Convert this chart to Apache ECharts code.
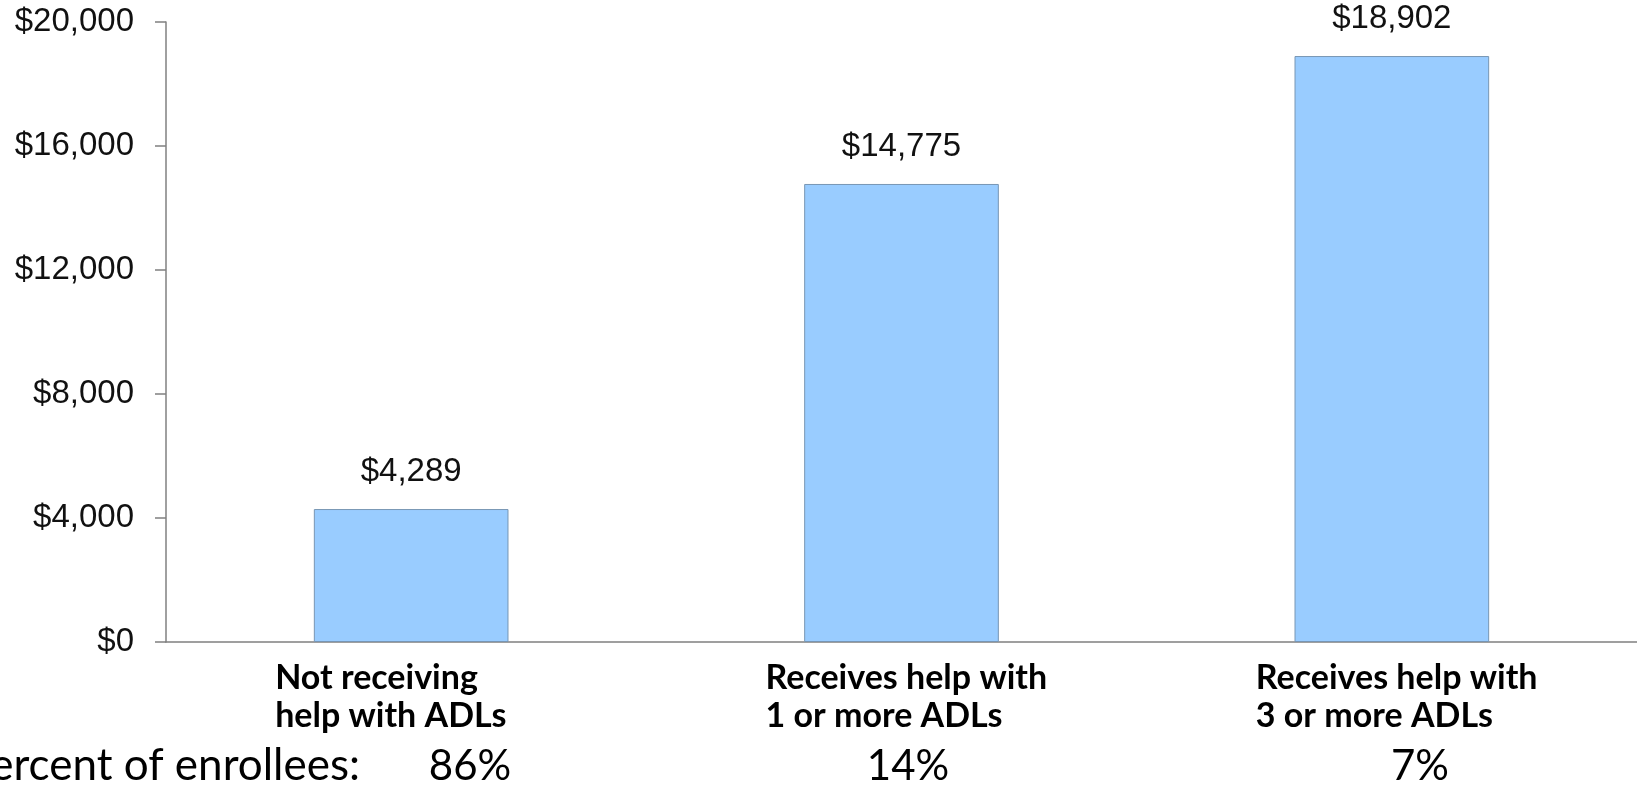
<!DOCTYPE html>
<html>
<head>
<meta charset="utf-8">
<style>
  html, body { margin: 0; padding: 0; background: #fff; }
  #chart { width: 1637px; height: 786px; }
</style>
<script src="https://cdn.jsdelivr.net/npm/echarts@6/dist/echarts.min.js"></script>
</head>
<body>
<div id="chart"></div>
<script>
// Average annual spending by ADL assistance status
const categories = [
  ['Not receiving', 'help with ADLs'],
  ['Receives help with', '1 or more ADLs'],
  ['Receives help with', '3 or more ADLs']
];
const spending = [4289, 14775, 18902];
const enrolleeShareLabel = 'Percent of enrollees:';
const enrolleeShares = ['86%', '14%', '7%'];
const axisMax = 20000;
const axisStep = 4000;

const money = v => '$' + v.toLocaleString('en-US');

const chart = echarts.init(document.getElementById('chart'), null, { renderer: 'canvas' });

chart.setOption({
  animation: false,
  backgroundColor: '#ffffff',
  grid: { left: 166, right: 0, top: 22, bottom: 144, containLabel: false },
  xAxis: {
    type: 'category',
    data: categories.map(c => c.join('\n')),
    axisLine: { show: true, lineStyle: { color: '#808080', width: 1.5 } },
    axisTick: { show: false },
    axisLabel: {
      interval: 0,
      margin: 17,
      width: 272,
      align: 'center',
      formatter: v => v.split('\n').map(l => '{t|' + l + '}').join('\n'),
      rich: {
        t: {
          align: 'left',
          fontFamily: 'Lato',
          fontWeight: 'bold',
          fontSize: 34,
          lineHeight: 38,
          color: '#000'
        }
      }
    }
  },
  yAxis: {
    type: 'value',
    min: 0,
    max: axisMax,
    interval: axisStep,
    splitLine: { show: false },
    axisLine: { show: true, lineStyle: { color: '#808080', width: 1.5 } },
    axisTick: { show: true, length: 11, lineStyle: { color: '#808080', width: 1.5 } },
    axisLabel: {
      margin: 32,
      formatter: money,
      fontFamily: 'Liberation Sans',
      fontSize: 33,
      color: '#111'
    }
  },
  series: [{
    type: 'bar',
    data: spending,
    barWidth: '39.7%',
    itemStyle: { color: '#99CCFF', borderColor: '#7896b4', borderWidth: 1 },
    label: {
      show: true,
      position: 'top',
      distance: 21,
      formatter: p => money(p.value),
      fontFamily: 'Liberation Sans',
      fontSize: 33,
      color: '#111'
    }
  }]
});

// Enrollee share row beneath the category labels
const shareX = [470, 908, 1420];
const shareY = 766;
chart.setOption({
  graphic: [
    {
      type: 'text',
      x: 360,
      y: shareY,
      style: { text: enrolleeShareLabel, font: '44px Lato', fill: '#000', textAlign: 'right', textVerticalAlign: 'middle' }
    }
  ].concat(enrolleeShares.map((s, i) => ({
    type: 'text',
    x: shareX[i],
    y: shareY,
    style: { text: s, font: '42px Lato', fill: '#000', textAlign: 'center', textVerticalAlign: 'middle' }
  })))
});
</script>
</body>
</html>
